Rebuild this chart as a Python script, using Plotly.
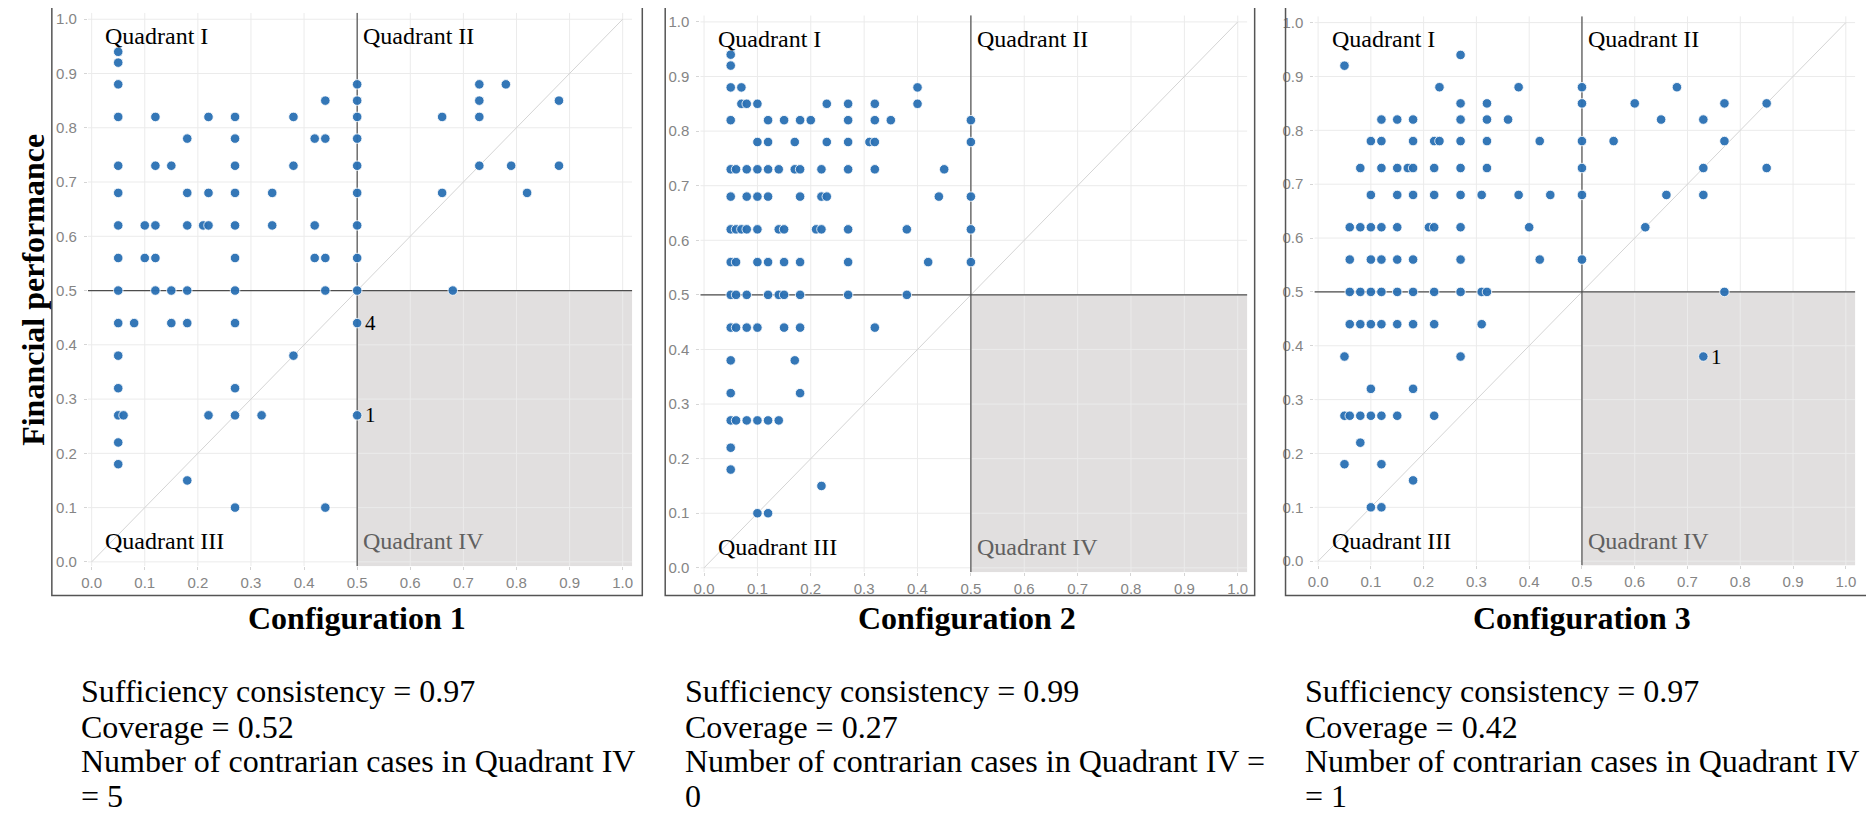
import plotly.graph_objects as go

# ---------------- data ----------------
# Configuration 1 (x = configuration membership, y = financial performance)
c1_x = [
    0.05,
    0.05,
    0.05, 0.50, 0.73, 0.78,
    0.44, 0.50, 0.73, 0.88,
    0.05, 0.12, 0.22, 0.27, 0.38, 0.50, 0.66, 0.73,
    0.18, 0.27, 0.42, 0.44, 0.50,
    0.05, 0.12, 0.15, 0.27, 0.38, 0.50, 0.73, 0.79, 0.88,
    0.05, 0.18, 0.22, 0.27, 0.34, 0.50, 0.66, 0.82,
    0.05, 0.10, 0.12, 0.18, 0.21, 0.22, 0.27, 0.34, 0.42, 0.50,
    0.05, 0.10, 0.12, 0.27, 0.42, 0.44, 0.50,
    0.05, 0.12, 0.15, 0.18, 0.27, 0.44, 0.50, 0.68,
    0.05, 0.08, 0.15, 0.18, 0.27, 0.50,
    0.05, 0.38,
    0.05, 0.27,
    0.05, 0.06, 0.22, 0.27, 0.32, 0.50,
    0.05,
    0.05,
    0.18,
    0.27, 0.44,
]
c1_y = [
    0.94,
    0.92,
    0.88, 0.88, 0.88, 0.88,
    0.85, 0.85, 0.85, 0.85,
    0.82, 0.82, 0.82, 0.82, 0.82, 0.82, 0.82, 0.82,
    0.78, 0.78, 0.78, 0.78, 0.78,
    0.73, 0.73, 0.73, 0.73, 0.73, 0.73, 0.73, 0.73, 0.73,
    0.68, 0.68, 0.68, 0.68, 0.68, 0.68, 0.68, 0.68,
    0.62, 0.62, 0.62, 0.62, 0.62, 0.62, 0.62, 0.62, 0.62, 0.62,
    0.56, 0.56, 0.56, 0.56, 0.56, 0.56, 0.56,
    0.50, 0.50, 0.50, 0.50, 0.50, 0.50, 0.50, 0.50,
    0.44, 0.44, 0.44, 0.44, 0.44, 0.44,
    0.38, 0.38,
    0.32, 0.32,
    0.27, 0.27, 0.27, 0.27, 0.27, 0.27,
    0.22,
    0.18,
    0.15,
    0.10, 0.10,
]

# Configuration 2
c2_x = [
    0.05,
    0.05,
    0.05, 0.07, 0.40,
    0.07, 0.08, 0.10, 0.23, 0.27, 0.32, 0.40,
    0.05, 0.12, 0.15, 0.18, 0.20, 0.27, 0.32, 0.35, 0.50,
    0.10, 0.12, 0.17, 0.23, 0.27, 0.31, 0.32, 0.50,
    0.05, 0.06, 0.08, 0.10, 0.12, 0.14, 0.17, 0.18, 0.22, 0.27, 0.32, 0.45,
    0.05, 0.08, 0.10, 0.12, 0.18, 0.22, 0.23, 0.44, 0.50,
    0.05, 0.06, 0.07, 0.08, 0.10, 0.14, 0.15, 0.21, 0.22, 0.27, 0.38, 0.50,
    0.05, 0.06, 0.10, 0.12, 0.15, 0.18, 0.27, 0.42, 0.50,
    0.05, 0.06, 0.08, 0.12, 0.14, 0.15, 0.18, 0.27, 0.38,
    0.05, 0.06, 0.08, 0.10, 0.15, 0.18, 0.32,
    0.05, 0.17,
    0.05, 0.18,
    0.05, 0.06, 0.08, 0.10, 0.12, 0.14,
    0.05,
    0.05,
    0.22,
    0.10, 0.12,
]
c2_y = [
    0.94,
    0.92,
    0.88, 0.88, 0.88,
    0.85, 0.85, 0.85, 0.85, 0.85, 0.85, 0.85,
    0.82, 0.82, 0.82, 0.82, 0.82, 0.82, 0.82, 0.82, 0.82,
    0.78, 0.78, 0.78, 0.78, 0.78, 0.78, 0.78, 0.78,
    0.73, 0.73, 0.73, 0.73, 0.73, 0.73, 0.73, 0.73, 0.73, 0.73, 0.73, 0.73,
    0.68, 0.68, 0.68, 0.68, 0.68, 0.68, 0.68, 0.68, 0.68,
    0.62, 0.62, 0.62, 0.62, 0.62, 0.62, 0.62, 0.62, 0.62, 0.62, 0.62, 0.62,
    0.56, 0.56, 0.56, 0.56, 0.56, 0.56, 0.56, 0.56, 0.56,
    0.50, 0.50, 0.50, 0.50, 0.50, 0.50, 0.50, 0.50, 0.50,
    0.44, 0.44, 0.44, 0.44, 0.44, 0.44, 0.44,
    0.38, 0.38,
    0.32, 0.32,
    0.27, 0.27, 0.27, 0.27, 0.27, 0.27,
    0.22,
    0.18,
    0.15,
    0.10, 0.10,
]

# Configuration 3
c3_x = [
    0.27,
    0.05,
    0.23, 0.38, 0.50, 0.68,
    0.27, 0.32, 0.50, 0.60, 0.77, 0.85,
    0.12, 0.15, 0.18, 0.27, 0.32, 0.36, 0.65, 0.73,
    0.10, 0.12, 0.18, 0.22, 0.23, 0.27, 0.32, 0.42, 0.50, 0.56, 0.77,
    0.08, 0.12, 0.15, 0.17, 0.18, 0.22, 0.27, 0.32, 0.50, 0.73, 0.85,
    0.10, 0.15, 0.18, 0.22, 0.27, 0.31, 0.38, 0.44, 0.50, 0.66, 0.73,
    0.06, 0.08, 0.10, 0.12, 0.15, 0.21, 0.22, 0.27, 0.40, 0.62,
    0.06, 0.10, 0.12, 0.15, 0.18, 0.27, 0.42, 0.50,
    0.06, 0.08, 0.10, 0.12, 0.15, 0.18, 0.22, 0.27, 0.31, 0.32, 0.77,
    0.06, 0.08, 0.10, 0.12, 0.15, 0.18, 0.22, 0.31,
    0.05, 0.27, 0.73,
    0.10, 0.18,
    0.05, 0.06, 0.08, 0.10, 0.12, 0.15, 0.22,
    0.08,
    0.05, 0.12,
    0.18,
    0.10, 0.12,
]
c3_y = [
    0.94,
    0.92,
    0.88, 0.88, 0.88, 0.88,
    0.85, 0.85, 0.85, 0.85, 0.85, 0.85,
    0.82, 0.82, 0.82, 0.82, 0.82, 0.82, 0.82, 0.82,
    0.78, 0.78, 0.78, 0.78, 0.78, 0.78, 0.78, 0.78, 0.78, 0.78, 0.78,
    0.73, 0.73, 0.73, 0.73, 0.73, 0.73, 0.73, 0.73, 0.73, 0.73, 0.73,
    0.68, 0.68, 0.68, 0.68, 0.68, 0.68, 0.68, 0.68, 0.68, 0.68, 0.68,
    0.62, 0.62, 0.62, 0.62, 0.62, 0.62, 0.62, 0.62, 0.62, 0.62,
    0.56, 0.56, 0.56, 0.56, 0.56, 0.56, 0.56, 0.56,
    0.50, 0.50, 0.50, 0.50, 0.50, 0.50, 0.50, 0.50, 0.50, 0.50, 0.50,
    0.44, 0.44, 0.44, 0.44, 0.44, 0.44, 0.44, 0.44,
    0.38, 0.38, 0.38,
    0.32, 0.32,
    0.27, 0.27, 0.27, 0.27, 0.27, 0.27, 0.27,
    0.22,
    0.18, 0.18,
    0.15,
    0.10, 0.10,
]

# labelled contrarian cases (x, y, label)
c1_lab_x = [0.50, 0.50]
c1_lab_y = [0.44, 0.27]
c1_lab_t = ["4", "1"]
c3_lab_x = [0.73]
c3_lab_y = [0.38]
c3_lab_t = ["1"]

config_titles = ["Configuration 1", "Configuration 2", "Configuration 3"]
stats_lines = [
    ["Sufficiency consistency = 0.97", "Coverage = 0.52",
     "Number of contrarian cases in Quadrant IV", "= 5"],
    ["Sufficiency consistency = 0.99", "Coverage = 0.27",
     "Number of contrarian cases in Quadrant IV =", "0"],
    ["Sufficiency consistency = 0.97", "Coverage = 0.42",
     "Number of contrarian cases in Quadrant IV", "= 1"],
]
quadrant_names = ["Quadrant I", "Quadrant II", "Quadrant III", "Quadrant IV"]
tick_vals = [0.0, 0.1, 0.2, 0.3, 0.4, 0.5, 0.6, 0.7, 0.8, 0.9, 1.0]
tick_text = ["0.0", "0.1", "0.2", "0.3", "0.4", "0.5", "0.6", "0.7", "0.8", "0.9", "1.0"]
y_title = "Financial performance"

assert len(c1_x) == len(c1_y)
assert len(c2_x) == len(c2_y)
assert len(c3_x) == len(c3_y)

# ---------------- figure ----------------
# The page body has an 8 px default margin, so the figure is 8 px smaller
# and all page-pixel positions are shifted by that margin.
OFF = 8
W, H = 1874 - OFF, 816 - OFF


def fx(px):
    return (px - OFF) / W


def fy(py):
    return 1 - (py - OFF) / H


SERIF = "Liberation Serif, Times New Roman, serif"
SANS = "Liberation Sans, Arial, sans-serif"
XMIN, XMAX = -0.007, 1.018
YMIN, YMAX = -0.008, 1.012
DOT = "#2a70b4"
GRID = "#ebebeb"
DIVIDER = "#4d4d4d"

# page-pixel position of value 0 and 1 on each axis, per panel
panels = [
    dict(x0=85.0, x1=618.3, y0=564.0, y1=17.3, frame=[45, 638],
         title_x=351, text_x=72, xs=c1_x, ys=c1_y,
         lab=(c1_lab_x, c1_lab_y, c1_lab_t)),
    dict(x0=700.0, x1=1236.0, y0=570.0, y1=20.0, frame=[661, 1253],
         title_x=964, text_x=679, xs=c2_x, ys=c2_y, lab=None),
    dict(x0=1316.7, x1=1846.7, y0=563.3, y1=20.7, frame=[1284, 1868],
         title_x=1582, text_x=1302, xs=c3_x, ys=c3_y,
         lab=(c3_lab_x, c3_lab_y, c3_lab_t)),
]

fig = go.Figure()
shapes = []
annotations = []
layout_axes = {}

for i, p in enumerate(panels):
    k = "" if i == 0 else str(i + 1)
    xref, yref = "x" + k, "y" + k
    sx = p["x1"] - p["x0"]
    sy = p["y0"] - p["y1"]
    xd = [fx(p["x0"] + XMIN * sx), fx(p["x0"] + XMAX * sx)]
    yd = [fy(p["y0"] - YMIN * sy), fy(p["y0"] - YMAX * sy)]

    fig.add_trace(go.Scatter(
        x=p["xs"], y=p["ys"], mode="markers", xaxis=xref, yaxis=yref,
        marker=dict(size=9.5, color=DOT, opacity=0.95,
                    line=dict(width=1, color="rgba(255,255,255,0.85)")),
        showlegend=False, hoverinfo="x+y"))

    axcommon = dict(tickmode="array", tickvals=tick_vals,
                    ticktext=tick_text, showgrid=False, zeroline=False,
                    showline=False, ticks="outside", ticklen=3,
                    tickcolor="#d5d5d5",
                    tickfont=dict(family=SANS, size=15, color="#858585"),
                    fixedrange=True)
    layout_axes["xaxis" + k] = dict(axcommon, range=[XMIN, XMAX], domain=xd,
                                   anchor=yref)
    layout_axes["yaxis" + k] = dict(axcommon, range=[YMIN, YMAX], domain=yd,
                                   anchor=xref, ticklabelstandoff=4)

    # shaded Quadrant IV
    shapes.append(dict(type="rect", xref=xref, yref=yref, x0=0.5, x1=XMAX,
                       y0=YMIN, y1=0.5, fillcolor="#e1dfdf", line_width=0,
                       layer="below"))
    # grid lines
    for t in tick_vals:
        shapes.append(dict(type="line", xref=xref, yref=yref, x0=t, x1=t,
                           y0=YMIN, y1=YMAX, line=dict(color=GRID, width=1),
                           layer="below"))
        shapes.append(dict(type="line", xref=xref, yref=yref, x0=XMIN, x1=XMAX,
                           y0=t, y1=t, line=dict(color=GRID, width=1),
                           layer="below"))
    # diagonal
    shapes.append(dict(type="line", xref=xref, yref=yref, x0=0, y0=0, x1=1, y1=1,
                       line=dict(color="#d4d4d4", width=1), layer="below"))
    # quadrant dividers
    shapes.append(dict(type="line", xref=xref, yref=yref, x0=XMIN, x1=XMAX,
                       y0=0.5, y1=0.5, line=dict(color=DIVIDER, width=1.2),
                       layer="below"))
    shapes.append(dict(type="line", xref=xref, yref=yref, x0=0.5, x1=0.5,
                       y0=YMIN, y1=YMAX, line=dict(color=DIVIDER, width=1.2),
                       layer="below"))
    # panel frame
    shapes.append(dict(type="rect", xref="paper", yref="paper",
                       x0=fx(p["frame"][0]), x1=fx(p["frame"][1]),
                       y0=fy(598), y1=fy(5),
                       line=dict(color="#555555", width=1.5),
                       fillcolor="rgba(0,0,0,0)", layer="above"))

    # quadrant labels
    qpos = [(0.022, 0.969, "black"), (0.508, 0.969, "black"),
            (0.022, 0.038, "black"), (0.508, 0.038, "#606060")]
    for name, (qx, qy, col) in zip(quadrant_names, qpos):
        annotations.append(dict(x=qx, y=qy, xref=xref, yref=yref, text=name,
                                showarrow=False, xanchor="left", yanchor="middle",
                                font=dict(family=SERIF, size=24, color=col)))

    # case labels
    if p["lab"] is not None:
        lx, ly, lt = p["lab"]
        for a, b, t in zip(lx, ly, lt):
            annotations.append(dict(x=a, y=b, xref=xref, yref=yref, text=t,
                                    showarrow=False, xanchor="left",
                                    yanchor="middle", xshift=6,
                                    font=dict(family=SERIF, size=21, color="black")))

    # configuration title
    annotations.append(dict(x=fx(p["title_x"]), y=fy(621), xref="paper",
                            yref="paper", text="<b>" + config_titles[i] + "</b>",
                            showarrow=False, xanchor="center", yanchor="middle",
                            font=dict(family=SERIF, size=32, color="black")))
    # statistics text
    for line, yy in zip(stats_lines[i], [694, 730, 765, 800]):
        annotations.append(dict(x=fx(p["text_x"]), y=fy(yy), xref="paper",
                                yref="paper", text=line, showarrow=False,
                                xanchor="left", yanchor="middle",
                                font=dict(family=SERIF, size=32, color="black")))

# y-axis title
annotations.append(dict(x=fx(26), y=fy(290), xref="paper", yref="paper",
                        text="<b>" + y_title + "</b>", showarrow=False,
                        textangle=-90, xanchor="center", yanchor="middle",
                        font=dict(family=SERIF, size=32, color="black")))

fig.update_layout(
    width=W, height=H, margin=dict(l=0, r=0, t=0, b=0),
    paper_bgcolor="white", plot_bgcolor="white",
    shapes=shapes, annotations=annotations, **layout_axes)

fig.write_html("out.html", config={"displayModeBar": False})
